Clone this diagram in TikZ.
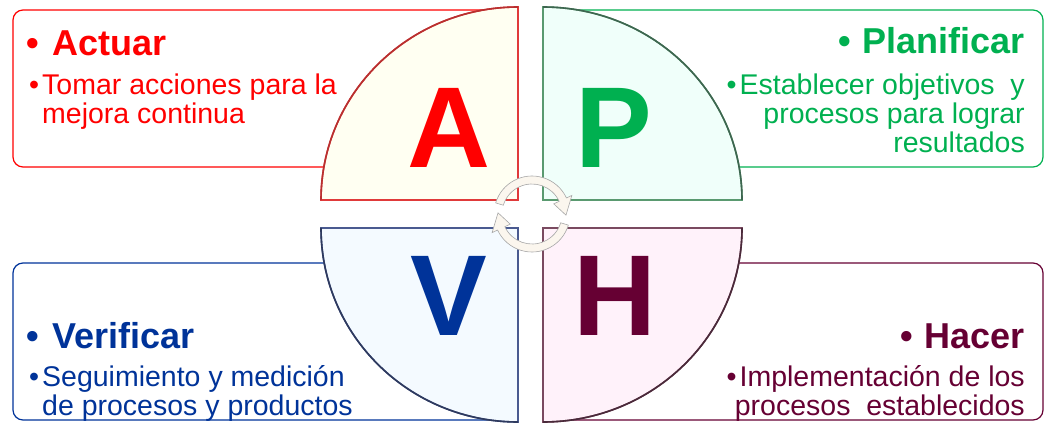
\documentclass[tikz,border=0pt]{standalone}
\usepackage{fontspec}
\setmainfont{Liberation Sans}
\usetikzlibrary{calc}
\definecolor{actred}{HTML}{FF0000}
\definecolor{plangreen}{HTML}{00B050}
\definecolor{verblue}{HTML}{003399}
\definecolor{hacmaroon}{HTML}{660033}
\definecolor{fillA}{HTML}{FFFFF2}
\definecolor{fillP}{HTML}{F0FFFA}
\definecolor{fillV}{HTML}{F4FAFF}
\definecolor{fillH}{HTML}{FFF2FA}
\definecolor{lineA}{HTML}{E03A3A}
\definecolor{lineP}{HTML}{5A9A70}
\definecolor{lineV}{HTML}{4A5A90}
\definecolor{lineH}{HTML}{7A4A60}
\definecolor{arcA}{HTML}{B83030}
\definecolor{arcP}{HTML}{3E6650}
\definecolor{arcV}{HTML}{2E3A5E}
\definecolor{arcH}{HTML}{4A2A3A}
\definecolor{turnfill}{HTML}{FBF6EE}
\definecolor{turnline}{HTML}{A8A8A8}

\begin{document}
\begin{tikzpicture}[x=1pt,y=-1pt,
  box/.style={rounded corners=10pt,line width=1.2pt},
  quad/.style={line width=1.6pt},
  big/.style={font=\bfseries\fontsize{115}{115}\selectfont,inner sep=0pt,anchor=base},
  head/.style={font=\bfseries\fontsize{36}{36}\selectfont,inner sep=0pt},
  body/.style={font=\fontsize{28.5}{29}\selectfont,inner sep=0pt},
  turn/.style={fill=turnfill,draw=turnline,line width=0.6pt}]
\useasboundingbox (0,0) rectangle (1047,423);

% boxes behind the quarters
\draw[box,actred] (13,10) rectangle (510,167);
\draw[box,plangreen] (550,10) rectangle (1043,167);
\draw[box,verblue] (13,263) rectangle (510,420);
\draw[box,hacmaroon] (550,263) rectangle (1043,420);

% quarters
\draw[quad,lineA,fill=fillA] (518,200) -- (321,200) arc[start angle=180,end angle=270,x radius=197,y radius=193] -- cycle;
\draw[quad,arcA] (321,200) arc[start angle=180,end angle=270,x radius=197,y radius=193];
\draw[quad,lineP,fill=fillP] (543,200) -- (543,7) arc[start angle=270,end angle=360,x radius=199,y radius=193] -- cycle;
\draw[quad,arcP] (543,7) arc[start angle=270,end angle=360,x radius=199,y radius=193];
\draw[quad,lineV,fill=fillV] (518,228) -- (321,228) arc[start angle=180,end angle=90,x radius=197,y radius=194] -- cycle;
\draw[quad,arcV] (321,228) arc[start angle=180,end angle=90,x radius=197,y radius=194];
\draw[quad,lineH,fill=fillH] (543,228) -- (742,228) arc[start angle=0,end angle=90,x radius=199,y radius=194] -- cycle;
\draw[quad,arcH] (742,228) arc[start angle=0,end angle=90,x radius=199,y radius=194];

% letters
\node[big,actred] (letA) at (449,167) {A};
\node[big,plangreen] (letP) at (614,167) {P};
\node[big,verblue] (letV) at (449,335) {V};
\node[big,hacmaroon] (letH) at (615,335) {H};

% cycle arrows
\coordinate (c) at (532,214);
\draw[turn] ($(c)+(197:38)$) arc[start angle=197,end angle=335,radius=38]
  -- ($(c)+(335:44)$) -- ($(c)+(2:34)$) -- ($(c)+(335:24)$) -- ($(c)+(335:30)$)
  arc[start angle=335,end angle=197,radius=30] -- cycle;
\draw[turn] ($(c)+(17:38)$) arc[start angle=17,end angle=155,radius=38]
  -- ($(c)+(155:44)$) -- ($(c)+(182:34)$) -- ($(c)+(155:24)$) -- ($(c)+(155:30)$)
  arc[start angle=155,end angle=17,radius=30] -- cycle;

% texts (base of a wrapped node = its last line)
\node[head,actred,anchor=base west] (actHead) at (26,55) {•\hspace{14pt}Actuar};
\node[body,actred,anchor=base west,align=left] (actBody) at (42,123)
  {\llap{•\hspace{3pt}}Tomar acciones para la\\mejora continua};
\node[head,plangreen,anchor=base east] (planHead) at (1025,53) {•\hspace{12pt}Planificar};
\node[body,plangreen,anchor=base east,align=right] (planBody) at (1025,152)
  {•\hspace{3pt}Establecer objetivos\ \ y\\procesos para lograr\\resultados};
\node[head,verblue,anchor=base west] (verHead) at (26,348) {•\hspace{14pt}Verificar};
\node[body,verblue,anchor=base west,align=left] (verBody) at (42,415)
  {\llap{•\hspace{3pt}}Seguimiento y medición\\de procesos y productos};
\node[head,hacmaroon,anchor=base east] (hacHead) at (1025,348) {•\hspace{12pt}Hacer};
\node[body,hacmaroon,anchor=base east,align=right] (hacBody) at (1025,415)
  {•\hspace{3pt}Implementación de los\\procesos\ \ establecidos};
\end{tikzpicture}
\end{document}
